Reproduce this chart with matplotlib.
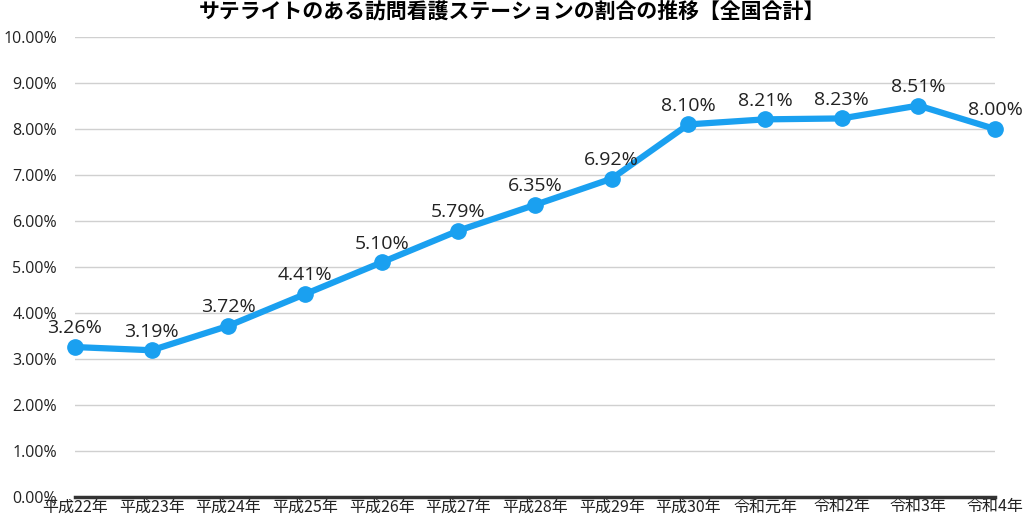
import matplotlib
matplotlib.use("Agg")
import matplotlib.pyplot as plt
from matplotlib.ticker import FuncFormatter, MultipleLocator

plt.rcParams['font.family'] = ['Noto Sans CJK JP', 'DejaVu Sans']

categories = ["平成22年", "平成23年", "平成24年", "平成25年", "平成26年", "平成27年",
              "平成28年", "平成29年", "平成30年", "令和元年", "令和2年", "令和3年", "令和4年"]
values = [3.26, 3.19, 3.72, 4.41, 5.10, 5.79, 6.35, 6.92, 8.10, 8.21, 8.23, 8.51, 8.00]
title = "サテライトのある訪問看護ステーションの割合の推移【全国合計】"

fig = plt.figure(figsize=(10.24, 5.17), dpi=100)
ax = fig.add_axes([0.0732, 0.0387, 0.8985, 0.8897])

x = list(range(len(categories)))
ax.plot(x, values, color="#1AA0F0", linewidth=4.5, marker="o", markersize=11,
        solid_joinstyle="round", zorder=3, clip_on=False)
for xi, v in zip(x, values):
    ax.annotate(f"{v:.2f}%", (xi, v), xytext=(0, 7), textcoords="offset points",
                ha="center", va="bottom", fontsize=14, color="#222222",
                family=['Open Sans', 'Noto Sans CJK JP'])

ax.set_xlim(0, len(categories) - 1)
ax.set_ylim(0, 10)
ax.yaxis.set_major_locator(MultipleLocator(1))
ax.yaxis.set_major_formatter(FuncFormatter(lambda v, p: f"{v:.2f}%"))
ax.set_xticks(x)
ax.set_xticklabels(categories)
ax.grid(axis="y", color="#d0d0d0", linewidth=1)
ax.set_axisbelow(True)
for s in ["top", "right", "left"]:
    ax.spines[s].set_visible(False)
ax.spines["bottom"].set_color("#333333")
ax.spines["bottom"].set_linewidth(2.5)
ax.tick_params(axis="both", length=0, labelsize=11.5, colors="#222222")
for lab in ax.get_yticklabels():
    lab.set_family(['Open Sans', 'Noto Sans CJK JP'])
ax.tick_params(axis="x", pad=1)
ax.tick_params(axis="y", pad=13)
fig.suptitle(title, fontsize=15, fontweight="bold", y=0.998, va="top")

fig.savefig("out.png", dpi=100)
